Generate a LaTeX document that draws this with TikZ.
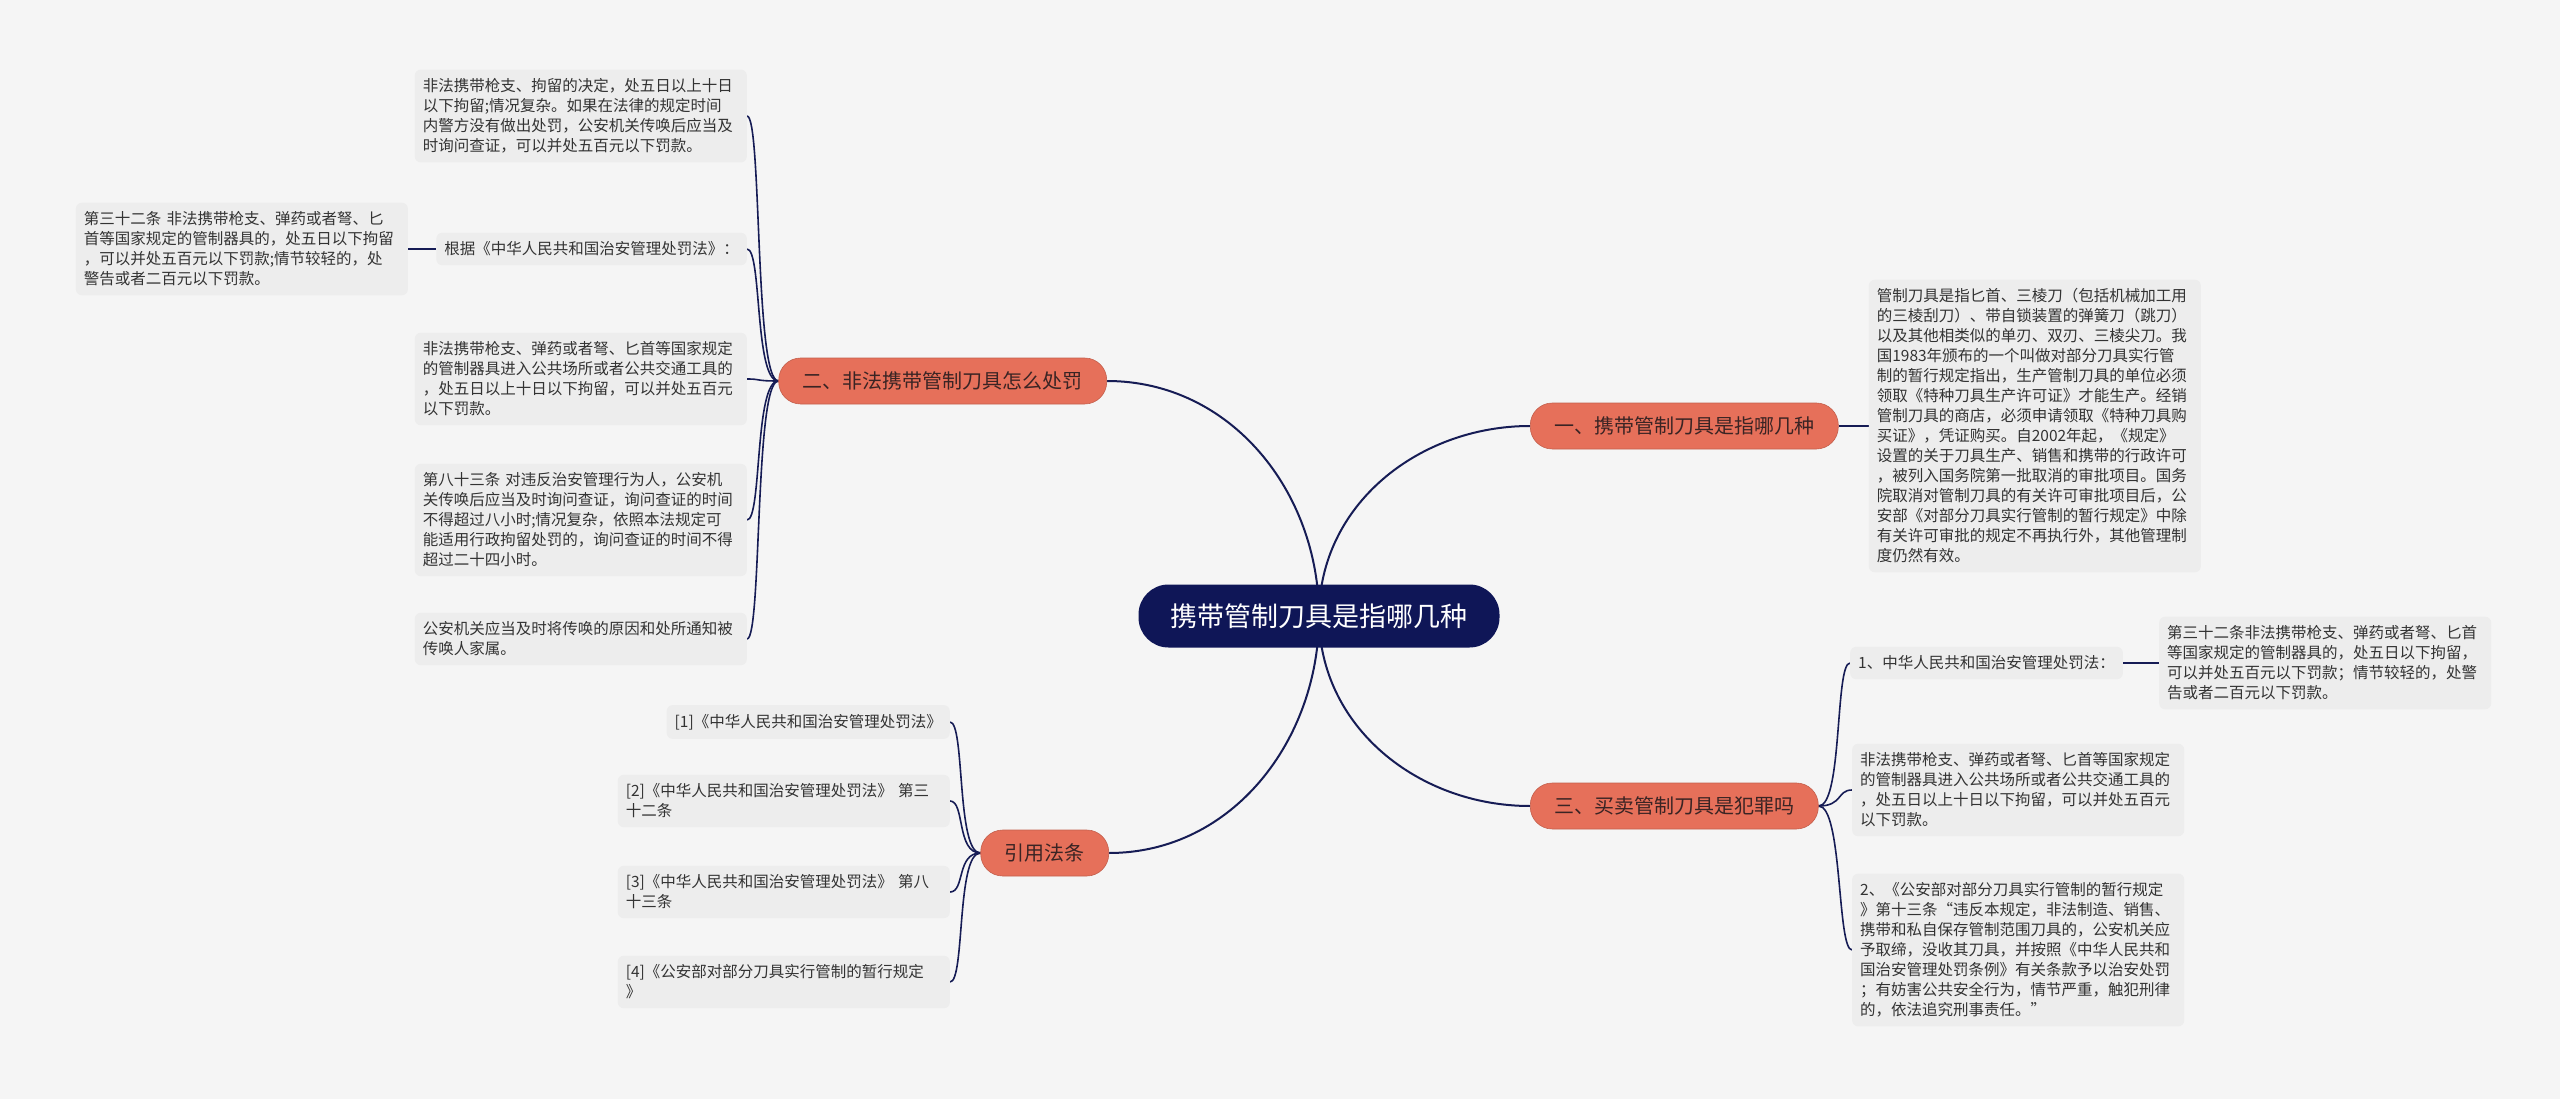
\documentclass[tikz,border=0pt]{standalone}
\usepackage{fontspec}
\setmainfont{Noto Sans CJK SC}
\usetikzlibrary{positioning,backgrounds}
\definecolor{bgcol}{HTML}{F5F5F5}
\definecolor{leafcol}{HTML}{EDEDED}
\definecolor{brcol}{HTML}{E6705A}
\definecolor{topcol}{HTML}{0F1657}
\definecolor{linkcol}{HTML}{161C55}
\definecolor{txtcol}{HTML}{333333}
\definecolor{brtxt}{HTML}{3A2424}

\begin{document}
\begin{tikzpicture}[
  x=1pt, y=-1pt,
  leaf/.style={
    fill=leafcol, rounded corners=6pt,
    inner xsep=8pt, inner ysep=9pt, align=left,
    text=txtcol, font=\fontsize{15.5}{20}\selectfont,
  },
  para/.style={leaf, text width=316pt},
  branch/.style={
    fill=brcol, draw=brcol!85!black, line width=0.6pt,
    rounded corners=22pt, minimum height=46pt, inner xsep=24pt,
    text=brtxt, font=\fontsize{20}{24}\selectfont,
  },
  topic/.style={
    fill=topcol, rounded corners=30pt, minimum height=63pt, inner xsep=32pt,
    text=white, font=\fontsize{27}{32}\selectfont,
  },
  link/.style={draw=linkcol, line width=2pt},
  sublink/.style={draw=linkcol, line width=1.6pt},
]
\useasboundingbox (0,0) rectangle (2560,1099);

% =================== centre ===================
\node[topic] (root) at (1319, 616) {携带管制刀具是指哪几种};

% =================== main branches ===================
\node[branch, anchor=west] (b1) at (1530, 426) {一、携带管制刀具是指哪几种};
\node[branch, anchor=east] (b2) at (1107, 381) {二、非法携带管制刀具怎么处罚};
\node[branch, anchor=west] (b3) at (1530, 806) {三、买卖管制刀具是犯罪吗};
\node[branch, anchor=east] (b4) at (1109, 853) {引用法条};

% =================== branch 1 ===================
\node[para, right=30pt of b1] (b1a) {管制刀具是指匕首、三棱刀（包括机械加工用\\的三棱刮刀）、带自锁装置的弹簧刀（跳刀）\\以及其他相类似的单刃、双刃、三棱尖刀。我\\国1983年颁布的一个叫做对部分刀具实行管\\制的暂行规定指出，生产管制刀具的单位必须\\领取《特种刀具生产许可证》才能生产。经销\\管制刀具的商店，必须申请领取《特种刀具购\\买证》，凭证购买。自2002年起，《规定》\\设置的关于刀具生产、销售和携带的行政许可\\，被列入国务院第一批取消的审批项目。国务\\院取消对管制刀具的有关许可审批项目后，公\\安部《对部分刀具实行管制的暂行规定》中除\\有关许可审批的规定不再执行外，其他管理制\\度仍然有效。};

% =================== branch 2 ===================
\node[para, anchor=east] (l2a) at (747, 116) {非法携带枪支、拘留的决定，处五日以上十日\\以下拘留;情况复杂。如果在法律的规定时间\\内警方没有做出处罚，公安机关传唤后应当及\\时询问查证，可以并处五百元以下罚款。};
\node[leaf, anchor=east] (l2b) at (747, 249) {根据《中华人民共和国治安管理处罚法》：};
\node[para, left=28pt of l2b] (l2b1) {第三十二条 非法携带枪支、弹药或者弩、匕\\首等国家规定的管制器具的，处五日以下拘留\\，可以并处五百元以下罚款;情节较轻的，处\\警告或者二百元以下罚款。};
\node[para, anchor=east] (l2c) at (747, 379) {非法携带枪支、弹药或者弩、匕首等国家规定\\的管制器具进入公共场所或者公共交通工具的\\，处五日以上十日以下拘留，可以并处五百元\\以下罚款。};
\node[para, anchor=east] (l2d) at (747, 520) {第八十三条 对违反治安管理行为人，公安机\\关传唤后应当及时询问查证，询问查证的时间\\不得超过八小时;情况复杂，依照本法规定可\\能适用行政拘留处罚的，询问查证的时间不得\\超过二十四小时。};
\node[para, anchor=east] (l2e) at (747, 639) {公安机关应当及时将传唤的原因和处所通知被\\传唤人家属。};

% =================== branch 3 ===================
\node[leaf, anchor=west] (l3a) at (1850, 663) {1、中华人民共和国治安管理处罚法：};
\node[para, right=36pt of l3a] (l3a1) {第三十二条非法携带枪支、弹药或者弩、匕首\\等国家规定的管制器具的，处五日以下拘留，\\可以并处五百元以下罚款；情节较轻的，处警\\告或者二百元以下罚款。};
\node[para, anchor=west] (l3b) at (1852, 790) {非法携带枪支、弹药或者弩、匕首等国家规定\\的管制器具进入公共场所或者公共交通工具的\\，处五日以上十日以下拘留，可以并处五百元\\以下罚款。};
\node[para, anchor=west] (l3c) at (1852, 950) {2、《公安部对部分刀具实行管制的暂行规定\\》第十三条“违反本规定，非法制造、销售、\\携带和私自保存管制范围刀具的，公安机关应\\予取缔，没收其刀具，并按照《中华人民共和\\国治安管理处罚条例》有关条款予以治安处罚\\；有妨害公共安全行为，情节严重，触犯刑律\\的，依法追究刑事责任。”};

% =================== branch 4 ===================
\node[leaf, anchor=east] (r1) at (950, 722) {[1]《中华人民共和国治安管理处罚法》};
\node[para, anchor=east] (r2) at (950, 801) {[2]《中华人民共和国治安管理处罚法》 第三\\十二条};
\node[para, anchor=east] (r3) at (950, 892) {[3]《中华人民共和国治安管理处罚法》 第八\\十三条};
\node[para, anchor=east] (r4) at (950, 982) {[4]《公安部对部分刀具实行管制的暂行规定\\》};

% =================== connectors ===================
\begin{scope}[on background layer]
  \fill[bgcol] (0,0) rectangle (2560,1099);

  \draw[link] (root.center) to[out=90, in=180] (b1.west);
  \draw[link] (root.center) to[out=90, in=0] (b2.east);
  \draw[link] (root.center) to[out=-90, in=180] (b3.west);
  \draw[link] (root.center) to[out=-90, in=0] (b4.east);

  \draw[sublink] (b1.east) -- (b1a.west);

  \foreach \kid in {l2a, l2b, l2c, l2d, l2e}
    \draw[sublink] (b2.west) .. controls +(-24,0) and +(15,0) .. (\kid.east);
  \draw[sublink] (l2b.west) -- (l2b1.east);

  \foreach \kid in {l3a, l3b, l3c}
    \draw[sublink] (b3.east) .. controls +(24,0) and +(-15,0) .. (\kid.west);
  \draw[sublink] (l3a.east) -- (l3a1.west);

  \foreach \kid in {r1, r2, r3, r4}
    \draw[sublink] (b4.west) .. controls +(-24,0) and +(15,0) .. (\kid.east);
\end{scope}

\end{tikzpicture}
\end{document}
